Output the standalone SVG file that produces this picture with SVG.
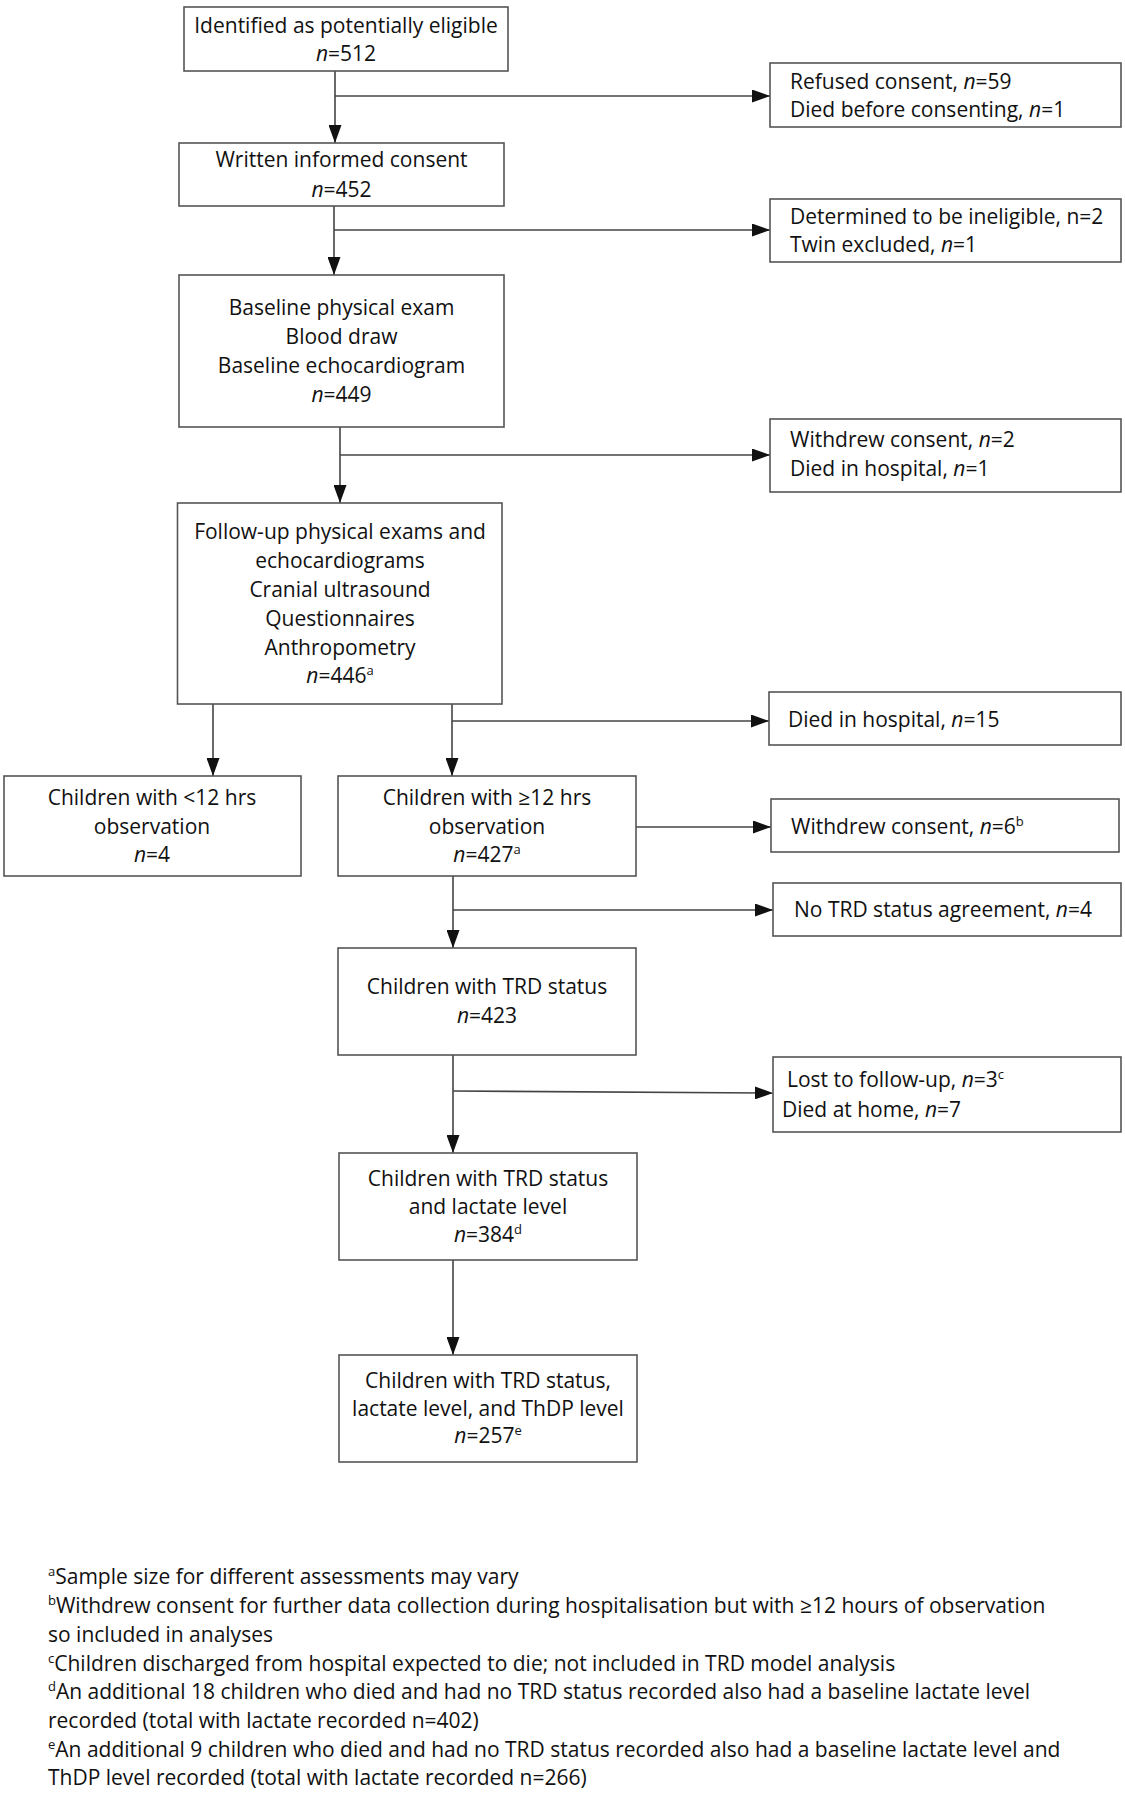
<svg xmlns="http://www.w3.org/2000/svg" width="1125" height="1800" viewBox="0 0 1125 1800">
<style>
.box{fill:#fff;stroke:#555;stroke-width:1.6}
.t{font-family:"Open Sans","Noto Sans","DejaVu Sans",sans-serif;font-size:21px;fill:#111}
.c{text-anchor:middle}
.fn{font-family:"Open Sans","Noto Sans","DejaVu Sans",sans-serif;font-size:21px;fill:#111}
.ln{stroke:#444;stroke-width:1.6;fill:none}
.sup{font-size:13px}
</style>
<defs>
<marker id="ah" markerUnits="userSpaceOnUse" markerWidth="18" markerHeight="13" refX="18" refY="6.5" orient="auto">
<path d="M0,0 L18,6.5 L0,13 z" fill="#111"/>
</marker>
</defs>
<rect width="1125" height="1800" fill="#fff"/>
<g id="connectors">
<path class="ln" d="M335,71 V143" marker-end="url(#ah)"/>
<path class="ln" d="M335,96 H770" marker-end="url(#ah)"/>
<path class="ln" d="M334,206 V275" marker-end="url(#ah)"/>
<path class="ln" d="M334,230 H770" marker-end="url(#ah)"/>
<path class="ln" d="M340,427 V503" marker-end="url(#ah)"/>
<path class="ln" d="M340,455 H770" marker-end="url(#ah)"/>
<path class="ln" d="M213,704 V776" marker-end="url(#ah)"/>
<path class="ln" d="M452,704 V776" marker-end="url(#ah)"/>
<path class="ln" d="M452,721 H769" marker-end="url(#ah)"/>
<path class="ln" d="M636,827 H771" marker-end="url(#ah)"/>
<path class="ln" d="M453,876 V948" marker-end="url(#ah)"/>
<path class="ln" d="M453,910 H773" marker-end="url(#ah)"/>
<path class="ln" d="M453,1055 V1153" marker-end="url(#ah)"/>
<path class="ln" d="M453,1091 L773,1093" marker-end="url(#ah)"/>
<path class="ln" d="M453,1260 V1355" marker-end="url(#ah)"/>
</g>
<g id="n1"><rect class="box" x="184" y="7" width="324" height="64"/>
<text class="t c" x="346" y="33">Identified as potentially eligible</text>
<text class="t c" x="346" y="61"><tspan font-style="italic">n</tspan>=512</text></g>
<g id="n2"><rect class="box" x="179" y="143" width="325" height="63"/>
<text class="t c" x="341.5" y="167">Written informed consent</text>
<text class="t c" x="341.5" y="197"><tspan font-style="italic">n</tspan>=452</text></g>
<g id="n3"><rect class="box" x="179" y="275" width="325" height="152"/>
<text class="t c" x="341.5" y="315">Baseline physical exam</text>
<text class="t c" x="341.5" y="344">Blood draw</text>
<text class="t c" x="341.5" y="373">Baseline echocardiogram</text>
<text class="t c" x="341.5" y="402"><tspan font-style="italic">n</tspan>=449</text></g>
<g id="n4"><rect class="box" x="770" y="63" width="351" height="64"/>
<text class="t" x="790" y="89">Refused consent, <tspan font-style="italic">n</tspan>=59</text>
<text class="t" x="790" y="117">Died before consenting, <tspan font-style="italic">n</tspan>=1</text></g>
<g id="n5"><rect class="box" x="770" y="199" width="351" height="63"/>
<text class="t" x="790" y="224">Determined to be ineligible, n=2</text>
<text class="t" x="790" y="252">Twin excluded, <tspan font-style="italic">n</tspan>=1</text></g>
<g id="n6"><rect class="box" x="770" y="419" width="351" height="73"/>
<text class="t" x="790" y="447">Withdrew consent, <tspan font-style="italic">n</tspan>=2</text>
<text class="t" x="790" y="476">Died in hospital, <tspan font-style="italic">n</tspan>=1</text></g>
<g id="n7"><rect class="box" x="177.5" y="503" width="324.5" height="201"/>
<text class="t c" x="340" y="539">Follow-up physical exams and</text>
<text class="t c" x="340" y="568">echocardiograms</text>
<text class="t c" x="340" y="597">Cranial ultrasound</text>
<text class="t c" x="340" y="626">Questionnaires</text>
<text class="t c" x="340" y="655">Anthropometry</text>
<text class="t c" x="340" y="683"><tspan font-style="italic">n</tspan>=446<tspan class="sup" dy="-8">a</tspan></text></g>
<g id="n8"><rect class="box" x="769" y="692" width="352" height="53"/>
<text class="t" x="788" y="727">Died in hospital, <tspan font-style="italic">n</tspan>=15</text></g>
<g id="n9"><rect class="box" x="4" y="776" width="297" height="100"/>
<text class="t c" x="152" y="805">Children with &lt;12 hrs</text>
<text class="t c" x="152" y="834">observation</text>
<text class="t c" x="152" y="862"><tspan font-style="italic">n</tspan>=4</text></g>
<g id="n10"><rect class="box" x="338" y="776" width="298" height="100"/>
<text class="t c" x="487" y="805">Children with ≥12 hrs</text>
<text class="t c" x="487" y="834">observation</text>
<text class="t c" x="487" y="862"><tspan font-style="italic">n</tspan>=427<tspan class="sup" dy="-8">a</tspan></text></g>
<g id="n11"><rect class="box" x="771" y="799" width="348" height="53"/>
<text class="t" x="791" y="834">Withdrew consent, <tspan font-style="italic">n</tspan>=6<tspan class="sup" dy="-8">b</tspan></text></g>
<g id="n12"><rect class="box" x="773" y="883" width="348" height="53"/>
<text class="t" x="794" y="917">No TRD status agreement, <tspan font-style="italic">n</tspan>=4</text></g>
<g id="n13"><rect class="box" x="338" y="948" width="298" height="107"/>
<text class="t c" x="487" y="994">Children with TRD status</text>
<text class="t c" x="487" y="1023"><tspan font-style="italic">n</tspan>=423</text></g>
<g id="n14"><rect class="box" x="773" y="1057" width="348" height="75"/>
<text class="t" x="787" y="1087">Lost to follow-up, <tspan font-style="italic">n</tspan>=3<tspan class="sup" dy="-8">c</tspan></text>
<text class="t" x="782" y="1117">Died at home, <tspan font-style="italic">n</tspan>=7</text></g>
<g id="n15"><rect class="box" x="339" y="1153" width="298" height="107"/>
<text class="t c" x="488" y="1186">Children with TRD status</text>
<text class="t c" x="488" y="1214">and lactate level</text>
<text class="t c" x="488" y="1242"><tspan font-style="italic">n</tspan>=384<tspan class="sup" dy="-8">d</tspan></text></g>
<g id="n16"><rect class="box" x="339" y="1355" width="298" height="107"/>
<text class="t c" x="488" y="1388">Children with TRD status,</text>
<text class="t c" x="488" y="1416">lactate level, and ThDP level</text>
<text class="t c" x="488" y="1443"><tspan font-style="italic">n</tspan>=257<tspan class="sup" dy="-8">e</tspan></text></g>
<g id="footnotes">
<text class="fn" x="48" y="1584"><tspan class="sup" dy="-8">a</tspan><tspan dy="8">Sample size for different assessments may vary</tspan></text>
<text class="fn" x="48" y="1613"><tspan class="sup" dy="-8">b</tspan><tspan dy="8">Withdrew consent for further data collection during hospitalisation but with ≥12 hours of observation</tspan></text>
<text class="fn" x="48" y="1642">so included in analyses</text>
<text class="fn" x="48" y="1671"><tspan class="sup" dy="-8">c</tspan><tspan dy="8">Children discharged from hospital expected to die; not included in TRD model analysis</tspan></text>
<text class="fn" x="48" y="1699"><tspan class="sup" dy="-8">d</tspan><tspan dy="8">An additional 18 children who died and had no TRD status recorded also had a baseline lactate level</tspan></text>
<text class="fn" x="48" y="1728">recorded (total with lactate recorded n=402)</text>
<text class="fn" x="48" y="1757"><tspan class="sup" dy="-8">e</tspan><tspan dy="8">An additional 9 children who died and had no TRD status recorded also had a baseline lactate level and</tspan></text>
<text class="fn" x="48" y="1785">ThDP level recorded (total with lactate recorded n=266)</text>
</g>
</svg>
